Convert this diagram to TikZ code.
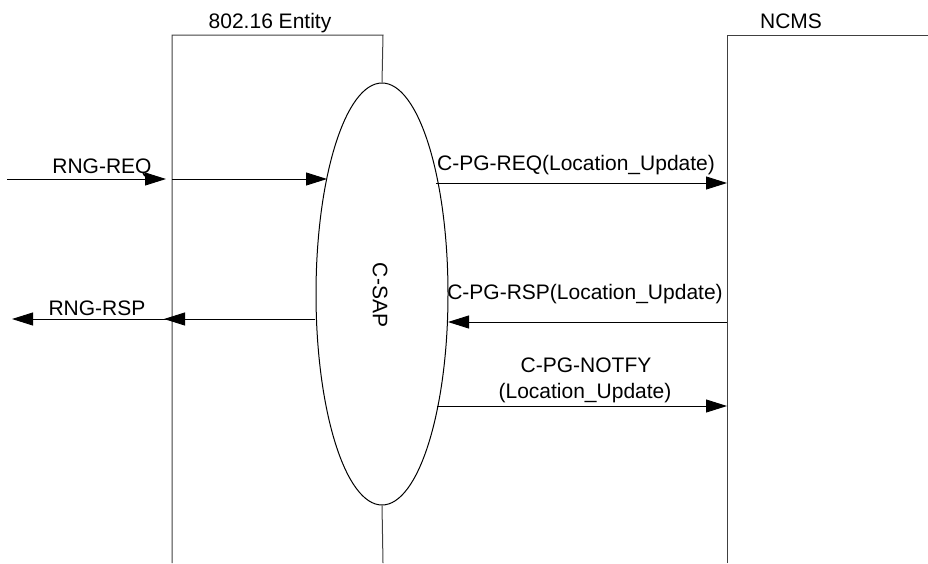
\documentclass[tikz,border=0pt]{standalone}
\usepackage{fontspec}
\setmainfont{Liberation Sans}
\usetikzlibrary{arrows.meta,shapes.geometric}
\begin{document}
\begin{tikzpicture}[x=1pt,y=-1pt,
  lifeline/.style={draw=black!75, line width=1pt},
  msg/.style={draw=black, line width=0.9pt, -{Triangle[length=21pt,width=13pt]}},
  lbl/.style={font=\fontsize{21}{24}\selectfont, inner sep=0pt, anchor=base},
  sap/.style={draw=black, line width=1pt, ellipse, minimum width=132pt, minimum height=422pt, inner sep=0pt}]
\useasboundingbox (0,0) rectangle (928,563);
% lifelines
\coordinate (eTL) at (172,35);
\coordinate (eTR) at (383,35);
\coordinate (eBL) at (172,563);
\coordinate (eBR) at (383,563);
\coordinate (nTL) at (727,35);
\coordinate (nTR) at (928,35);
\coordinate (nBL) at (727,563);
\node[sap] (csap) at (382,294) {};
\node[rotate=-90, font=\fontsize{21}{24}\selectfont, inner sep=0pt] (csaplbl) at (380,295) {C-SAP};
\draw[lifeline] (eBL) -- (eTL) -- (eTR) -- (csap.north);
\draw[lifeline] (csap.south) -- (eBR);
\draw[lifeline] (nBL) -- (nTL) -- (nTR);
\node[lbl] (ent) at (270,28) {802.16 Entity};
\node[lbl] (ncms) at (791,28) {NCMS};
% message coordinates
\coordinate (a1) at (7,179);
\coordinate (a2) at (166,179);
\coordinate (a3) at (172,179);
\coordinate (a4) at (327,179);
\coordinate (b1) at (436,183);
\coordinate (b2) at (727,183);
\coordinate (c1) at (727,322);
\coordinate (c2) at (448,322);
\coordinate (d1) at (315,319);
\coordinate (d2) at (164,319);
\coordinate (d3) at (172,319);
\coordinate (d4) at (12,319);
\coordinate (e1) at (437,406);
\coordinate (e2) at (727,406);
\draw[msg] (a1) -- (a2);
\draw[msg] (a3) -- (a4);
\draw[msg] (b1) -- (b2);
\draw[msg] (c1) -- (c2);
\draw[msg] (d1) -- (d2);
\draw[msg] (d3) -- (d4);
\draw[msg] (e1) -- (e2);
% labels
\node[lbl] (lreq) at (102,173) {RNG-REQ};
\node[lbl] (lrsp) at (97,315) {RNG-RSP};
\node[lbl] (lpreq) at (576,170) {C-PG-REQ(Location\_Update)};
\node[lbl] (lprsp) at (585,299) {C-PG-RSP(Location\_Update)};
\node[lbl] (lnot1) at (586,372) {C-PG-NOTFY};
\node[lbl] (lnot2) at (585,398) {(Location\_Update)};
\end{tikzpicture}
\end{document}
